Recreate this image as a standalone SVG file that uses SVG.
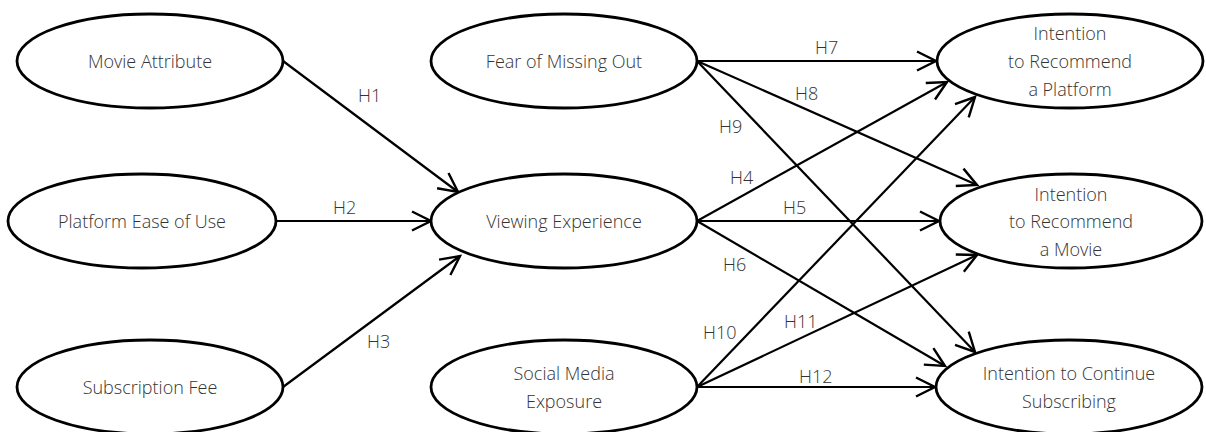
<svg xmlns="http://www.w3.org/2000/svg" width="1206" height="432" viewBox="0 0 1206 432">
<defs>
<marker id="arr" markerUnits="userSpaceOnUse" markerWidth="30" markerHeight="30" viewBox="-25 -15 30 30" refX="0" refY="0" orient="auto" overflow="visible">
<path d="M-19,-9.5 L0,0 L-19,9.5" fill="none" stroke="#000" stroke-width="2.4" stroke-linejoin="miter"/>
</marker>
</defs>
<style>
.n ellipse{fill:#fff;stroke:#000;stroke-width:2.8}
text{font-family:"Open Sans","Noto Sans","DejaVu Sans",sans-serif;font-size:18px;font-weight:300;fill:#333}
.n text{text-anchor:middle}
.c line{stroke:#000;stroke-width:2.2;marker-end:url(#arr)}
</style>
<rect width="1206" height="432" fill="#fff"/>
<g class="c" id="connectors">
<line x1="283" y1="61" x2="458" y2="192"/>
<line x1="276" y1="221" x2="431" y2="221"/>
<line x1="283" y1="387" x2="460" y2="256"/>
<line x1="697" y1="61" x2="936" y2="61"/>
<line x1="697" y1="61" x2="977" y2="185"/>
<line x1="697" y1="61" x2="975" y2="352"/>
<line x1="697" y1="221" x2="947" y2="82"/>
<line x1="697" y1="221" x2="939" y2="221"/>
<line x1="697" y1="221" x2="945" y2="366"/>
<line x1="697" y1="387" x2="975" y2="97"/>
<line x1="697" y1="387" x2="977" y2="255"/>
<line x1="697" y1="387" x2="935" y2="387"/>
<text x="358" y="102">H1</text>
<text x="333" y="214">H2</text>
<text x="367" y="348">H3</text>
<text x="815" y="54">H7</text>
<text x="795" y="100">H8</text>
<text x="719" y="133">H9</text>
<text x="730" y="184">H4</text>
<text x="783" y="214">H5</text>
<text x="723" y="271">H6</text>
<text x="703" y="339">H10</text>
<text x="784" y="328">H11</text>
<text x="799" y="383">H12</text>
</g>
<g class="n" id="movie-attribute"><ellipse cx="150" cy="61" rx="133" ry="47"/><text x="150" y="68">Movie Attribute</text></g>
<g class="n" id="platform-ease"><ellipse cx="142" cy="221" rx="134" ry="47"/><text x="142" y="228">Platform Ease of Use</text></g>
<g class="n" id="subscription-fee"><ellipse cx="150" cy="387" rx="133" ry="47"/><text x="150" y="394">Subscription Fee</text></g>
<g class="n" id="fomo"><ellipse cx="564" cy="61" rx="133" ry="47"/><text x="564" y="68">Fear of Missing Out</text></g>
<g class="n" id="viewing-experience"><ellipse cx="564" cy="221" rx="133" ry="47"/><text x="564" y="228">Viewing Experience</text></g>
<g class="n" id="social-media"><ellipse cx="564" cy="387" rx="133" ry="47"/><text x="564" y="380">Social Media</text><text x="564" y="408">Exposure</text></g>
<g class="n" id="recommend-platform"><ellipse cx="1070" cy="61" rx="133" ry="47"/><text x="1070" y="40">Intention</text><text x="1070" y="68">to Recommend</text><text x="1070" y="96">a Platform</text></g>
<g class="n" id="recommend-movie"><ellipse cx="1071" cy="221" rx="131" ry="47"/><text x="1071" y="201">Intention</text><text x="1071" y="228">to Recommend</text><text x="1071" y="256">a Movie</text></g>
<g class="n" id="continue-subscribing"><ellipse cx="1069" cy="387" rx="133" ry="47"/><text x="1069" y="380">Intention to Continue</text><text x="1069" y="408">Subscribing</text></g>
</svg>
